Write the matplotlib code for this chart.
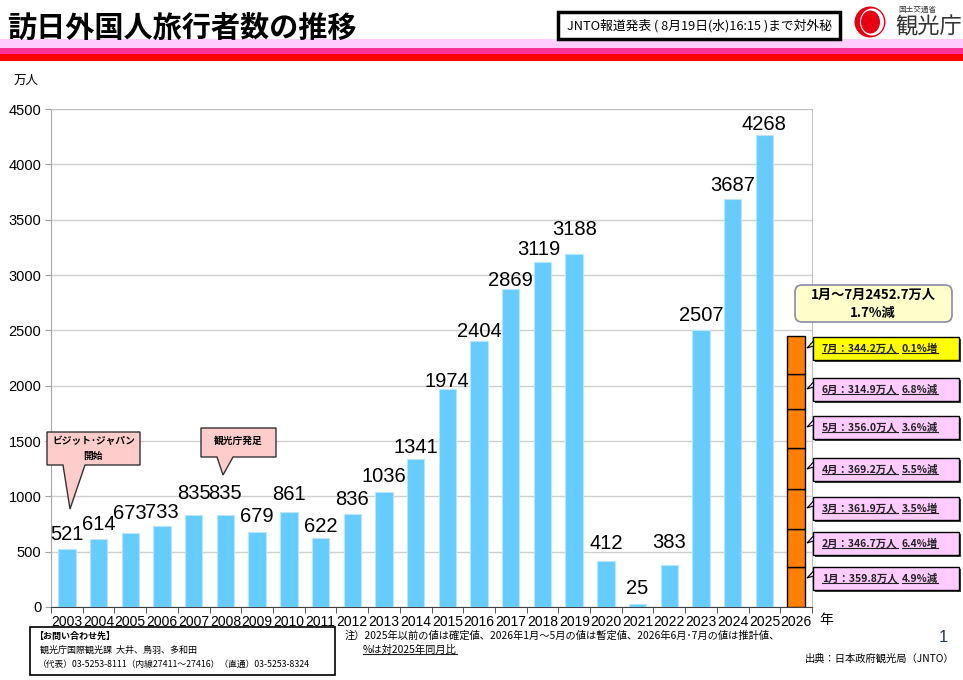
import matplotlib
matplotlib.use('Agg')
import matplotlib.pyplot as plt
from matplotlib.patches import Rectangle, Polygon, FancyBboxPatch, Ellipse, Circle
from matplotlib.lines import Line2D

plt.rcParams['font.family'] = ['Liberation Sans', 'Noto Sans CJK JP', 'DejaVu Sans']
JP = ['Noto Sans CJK JP', 'DejaVu Sans']

# ---------------- data ----------------
years = [str(y) for y in range(2003, 2027)]
visitors = [521, 614, 673, 733, 835, 835, 679, 861, 622, 836, 1036, 1341,
            1974, 2404, 2869, 3119, 3188, 412, 25, 383, 2507, 3687, 4268]
months_2026 = ['1月', '2月', '3月', '4月', '5月', '6月', '7月']
monthly_2026 = [359.8, 346.7, 361.9, 369.2, 356.0, 314.9, 344.2]
monthly_change = ['4.9%減', '6.4%増', '3.5%増', '5.5%減', '3.6%減', '6.8%減', '0.1%増']
yticks = [0, 500, 1000, 1500, 2000, 2500, 3000, 3500, 4000, 4500]

# label placement (layout only): gap above bar in px, horizontal shift in px
label_gap_px = [9, 9, 14, 8, 16, 16, 10, 12, 6, 9, 10, 6, 2, 4, 3, 7, 19, 12,
                10, 17, 9, 8, 5]
label_dx_px = [0] * 15 + [-4] + [0] * 7

fig = plt.figure(figsize=(9.63, 6.80), dpi=100)
W, H = 963, 680
ax = fig.add_axes([51 / W, 1 - 607 / H, (812 - 51) / W, (607 - 109) / H])

x = list(range(len(visitors)))
ax.bar(x, visitors, width=0.55, color='#66CCFF', edgecolor='#B8E6FF',
       linewidth=0.8, zorder=3)
for i, v in zip(x, visitors):
    ax.annotate(str(v), (i, v),
                xytext=(label_dx_px[i] * 0.72, label_gap_px[i] * 0.72),
                textcoords='offset points', ha='center', va='baseline',
                fontsize=14.5, zorder=5)

# 2026 stacked monthly bar
i26 = len(visitors)
bottom = 0
for v in monthly_2026:
    ax.bar(i26, v, bottom=bottom, width=0.55, color='#FF8000',
           edgecolor='black', linewidth=1, zorder=3)
    bottom += v

ax.set_xlim(-0.5, len(years) - 0.5)
ax.set_ylim(0, 4500)
ax.set_yticks(yticks)
ax.set_yticklabels([str(t) for t in yticks], fontsize=10.5)
ax.set_xticks(range(len(years)))
ax.set_xticklabels(years, fontsize=10)
ax.set_xticks([k - 0.5 for k in range(len(years) + 1)], minor=True)
ax.tick_params(axis='x', which='major', length=0, pad=6)
ax.tick_params(axis='x', which='minor', length=4, direction='out', color='#404040')
ax.tick_params(axis='y', length=4, direction='out', color='#A0A0A0', pad=3)
ax.yaxis.grid(True, color='#D0D0D0', linewidth=1, zorder=0)
ax.set_axisbelow(True)
ax.spines['left'].set_color('#A8A8A8')
ax.spines['top'].set_color('#C0C0C0')
ax.spines['right'].set_color('#C0C0C0')
ax.spines['bottom'].set_color('#404040')

# ---------------- overlay (pixel coords, y downward) ----------------
ov = fig.add_axes([0, 0, 1, 1], zorder=10)
ov.set_xlim(0, W)
ov.set_ylim(H, 0)
ov.axis('off')
ov.patch.set_alpha(0)

# header bands
ov.add_patch(Rectangle((0, 39), W, 9, color='#FFCCFF', lw=0))
ov.add_patch(Rectangle((0, 48), W, 6, color='#FF3399', lw=0))
ov.add_patch(Rectangle((0, 54), W, 7, color='#FF0000', lw=0))
ov.text(7, 28, '訪日外国人旅行者数の推移', fontsize=21, fontweight='bold',
        family=JP, va='center', ha='left', color='black')

# JNTO box
ov.add_patch(Rectangle((558, 12), 282, 27, fc='white', ec='black', lw=2.5))
ov.text(699, 25.5, 'JNTO報道発表 ( 8月19日(水)16:15 )まで対外秘', fontsize=9.2,
        family=JP, ha='center', va='center')

# logo
ov.add_patch(Circle((870, 22), 15.5, color='#E60012', lw=0))
ov.add_patch(Ellipse((872, 22), 24, 27, color='white', lw=0))
ov.add_patch(Ellipse((870.5, 22), 19, 23, color='#E60012', lw=0))
ov.text(898, 10, '国土交通省', fontsize=5.5, family=JP, va='center', color='#333333')
ov.text(895, 27, '観光庁', fontsize=16, family=JP, va='center', color='#333333')

# axis unit labels
ov.text(14, 80, '万人', fontsize=9, family=JP, va='center')
ov.text(819, 620, '年', fontsize=10, family=JP, va='center')

# summary box
ov.add_patch(FancyBboxPatch((795, 285), 157, 37,
                            boxstyle='round,pad=0,rounding_size=7',
                            fc='#FFFFCC', ec='#8A8AAA', lw=1.2))
total_2026 = sum(monthly_2026)
ov.text(873, 295, f'1月～7月{total_2026:.1f}万人', fontsize=9.5, fontweight='bold',
        family=JP, ha='center', va='center')
ov.text(873, 313, '1.7%減', fontsize=9.5, fontweight='bold', family=JP,
        ha='center', va='center')

# month boxes
box_tops = [567, 532, 497, 458, 416, 378, 337]
box_h = 23
underline_texts = []
for m, v, c, top in zip(months_2026, monthly_2026, monthly_change, box_tops):
    fc = '#FFFF00' if m == '7月' else '#FFCCFF'
    ov.add_patch(Rectangle((815, top + 2), 146, box_h, fc='#404040', ec='none', lw=0))
    ov.add_patch(Rectangle((813, top), 146, box_h, fc=fc, ec='black', lw=1))
    ov.add_patch(Polygon([(813.5, top + 4), (807, top + 11), (813.5, top + 9)],
                         closed=True, fc=fc, ec='black', lw=0.8))
    ym = top + box_h / 2
    t1 = ov.text(822, ym, f'{m}：{v:.1f}万人', fontsize=7.5, fontweight='bold',
                 family=JP, va='center', color='#222222')
    t2 = ov.text(902, ym, c, fontsize=7.5, fontweight='bold', family=JP,
                 va='center', color='#222222')
    underline_texts += [t1, t2]

# speech bubbles
ov.add_patch(Polygon([(47, 432), (140, 432), (140, 465), (85, 465), (70, 509),
                      (63, 465), (47, 465)], closed=True, fc='#FFCCCC',
                     ec='#333333', lw=1))
ov.text(93.5, 441, 'ビジット･ジャパン', fontsize=7, fontweight='bold', family=JP,
        ha='center', va='center')
ov.text(93.5, 456, '開始', fontsize=7, fontweight='bold', family=JP,
        ha='center', va='center')
ov.add_patch(Polygon([(201, 428), (276, 428), (276, 457), (233, 457), (223, 475),
                      (217, 457), (201, 457)], closed=True, fc='#FFCCCC',
                     ec='#333333', lw=1))
ov.text(238.5, 441, '観光庁発足', fontsize=7, fontweight='bold', family=JP,
        ha='center', va='center')

# contact box
ov.add_patch(Rectangle((30, 627), 305, 48, fc='white', ec='black', lw=1.2))
ov.text(34, 636, '【お問い合わせ先】', fontsize=6.5, fontweight='bold', family=JP, va='center')
ov.text(40, 650, '観光庁国際観光課  大井、鳥羽、多和田', fontsize=6.5, family=JP, va='center')
ov.text(38, 664, '（代表）03-5253-8111（内線27411～27416）（直通）03-5253-8324',
        fontsize=6.3, family=JP, va='center')

# notes
ov.text(345, 636, '注）2025年以前の値は確定値、2026年1月～5月の値は暫定値、2026年6月･7月の値は推計値、',
        fontsize=7.4, family=JP, va='center')
t3 = ov.text(363, 650, '%は対2025年同月比', fontsize=7.4, family=JP, va='center')
underline_texts.append(t3)
ov.text(948, 637, '1', fontsize=12, va='center', ha='right', color='#1F3864')
ov.text(955, 659, '出典：日本政府観光局（JNTO）', fontsize=7.4, family=JP,
        va='center', ha='right')

# underlines
fig.canvas.draw()
r = fig.canvas.get_renderer()
inv = ov.transData.inverted()
for t in underline_texts:
    bb = t.get_window_extent(r)
    (x0, y0), (x1, _) = inv.transform([(bb.x0, bb.y0), (bb.x1, bb.y1)])
    ov.add_line(Line2D([x0, x1], [y0 - 1, y0 - 1], color='#222222', lw=0.8))

fig.savefig('out.png', dpi=100)
